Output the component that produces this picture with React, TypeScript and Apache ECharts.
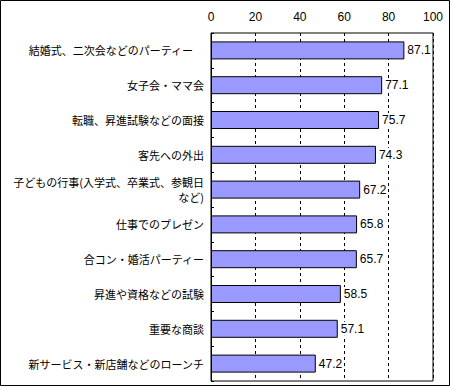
import React, { useEffect, useRef } from "react";
import * as echarts from "echarts";

const categories = [
  "結婚式、二次会などのパーティー　",
  "女子会・ママ会",
  "転職、昇進試験などの面接",
  "客先への外出",
  "子どもの行事(入学式、卒業式、参観日\nなど)",
  "仕事でのプレゼン",
  "合コン・婚活パーティー",
  "昇進や資格などの試験",
  "重要な商談",
  "新サービス・新店舗などのローンチ",
];
const values = [87.1, 77.1, 75.7, 74.3, 67.2, 65.8, 65.7, 58.5, 57.1, 47.2];
const xTicks = { min: 0, max: 100, interval: 20 };

const FONT = "'Noto Sans CJK JP', sans-serif";

export default function App() {
  const ref = useRef<HTMLDivElement>(null);
  useEffect(() => {
    if (!ref.current) return;
    const chart = echarts.init(ref.current, null, { renderer: "svg" });
    chart.setOption({
      animation: false,
      backgroundColor: "#ffffff",
      grid: { left: 211, top: 33, width: 222, height: 348, containLabel: false, show: true, borderColor: "#000", borderWidth: 1 },
      graphic: [
        {
          type: "rect",
          shape: { x: 0.5, y: 0.5, width: 449, height: 385 },
          style: { fill: "none", stroke: "#000", lineWidth: 1 },
          silent: true,
        },
      ],
      xAxis: {
        type: "value",
        position: "top",
        min: xTicks.min,
        max: xTicks.max,
        interval: xTicks.interval,
        axisLine: { show: false },
        axisTick: { show: false },
        axisLabel: { color: "#000", fontSize: 12, fontFamily: "Arial, 'Liberation Sans', sans-serif", margin: 10 },
        splitLine: { show: true, lineStyle: { color: "#000", type: [3, 3], width: 1 } },
      },
      yAxis: {
        type: "category",
        inverse: true,
        data: categories,
        axisLine: { show: true, lineStyle: { color: "#000" } },
        axisTick: { show: true, inside: true, length: 3, lineStyle: { color: "#000" } },
        axisLabel: {
          color: "#000",
          fontSize: 11,
          fontFamily: FONT,
          margin: 7,
          align: "right",
          lineHeight: 15,
          interval: 0,
        },
        splitLine: { show: false },
      },
      series: [
        {
          type: "bar",
          data: values,
          barWidth: 18,
          itemStyle: { color: "#9999ff", borderColor: "#000", borderWidth: 1 },
          label: {
            show: true,
            position: "right",
            distance: 2,
            color: "#000",
            fontSize: 12,
            fontFamily: "Arial, 'Liberation Sans', sans-serif",
            backgroundColor: "#ffffff",
            padding: [1, 1],
            formatter: (p: any) => p.value.toFixed(1),
          },
        },
      ],
    });
    return () => chart.dispose();
  }, []);
  return (
    <div style={{ position: "fixed", left: 0, top: 0, width: 450, height: 386 }}>
      <div ref={ref} style={{ width: 450, height: 386 }} />
    </div>
  );
}
